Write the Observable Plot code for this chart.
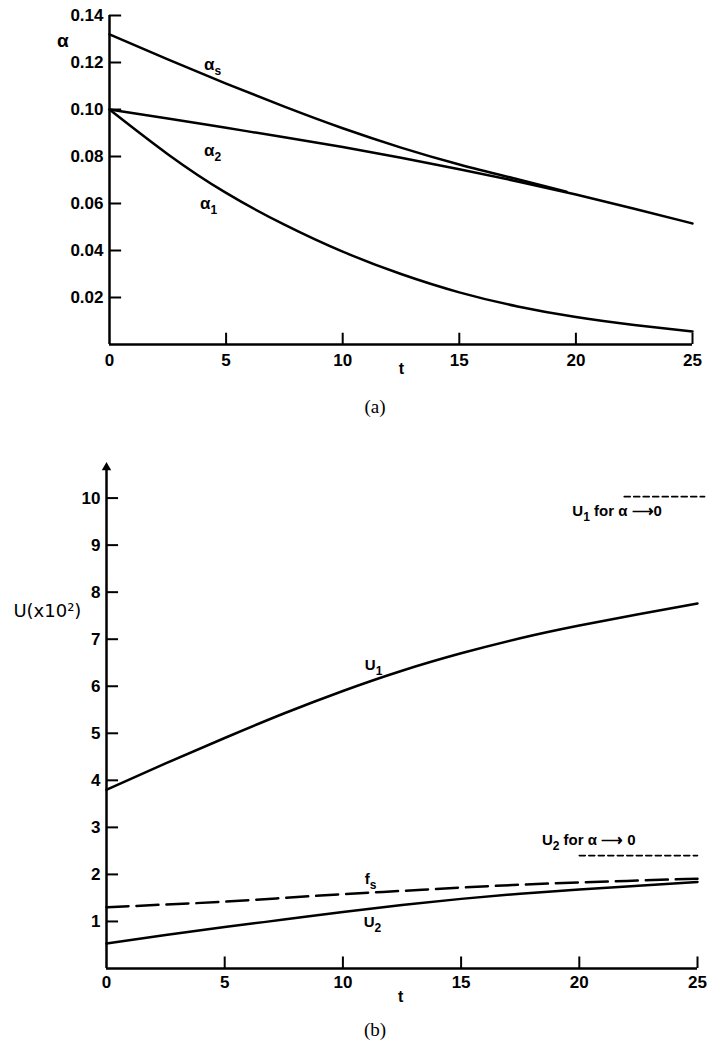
<!DOCTYPE html>
<html><head><meta charset="utf-8">
<script src="https://cdn.jsdelivr.net/npm/d3@7"></script>
<script src="https://cdn.jsdelivr.net/npm/@observablehq/plot@0.6"></script>
<style>
body{margin:0;background:#fff;}
#root{position:relative;width:710px;height:1042px;overflow:hidden;background:#fff;}
.panel{position:absolute;left:0;}
.cap{position:absolute;left:335px;width:80px;text-align:center;font-family:"Liberation Serif","Times New Roman",serif;font-size:19px;color:#000;line-height:22px;}
</style></head>
<body>
<div id="root">
  <div id="pa" class="panel" style="top:0"></div>
  <div class="cap" style="top:396px">(a)</div>
  <div id="pb" class="panel" style="top:430px"></div>
  <div class="cap" style="top:1019px">(b)</div>
</div>
<script>
// ---------- Panel (a) data ----------
const tAlpha   = [0, 2.5, 5, 7.5, 10, 12.5, 15, 17.5, 20, 22.5, 25];
const alpha1   = [0.100, 0.0810, 0.0645, 0.0510, 0.0395, 0.0300, 0.0222, 0.0162, 0.0117, 0.0083, 0.0055];
const alpha2   = [0.100, 0.0962, 0.0922, 0.0882, 0.0840, 0.0795, 0.0746, 0.0694, 0.0638, 0.0578, 0.0515];
const tAlphaS  = [0, 2.5, 5, 7.5, 10, 12.5, 15, 17.5, 19.6];
const alphaS   = [0.132, 0.1213, 0.1110, 0.1012, 0.0920, 0.0838, 0.0766, 0.0703, 0.0650];
const alphaTicks = [0.02, 0.04, 0.06, 0.08, 0.10, 0.12, 0.14];
const tTicks   = [0, 5, 10, 15, 20, 25];
const alphaLabels = [
  {t: 4.42, v: 0.1190, text: "α_s"},
  {t: 4.42, v: 0.0826, text: "α_2"},
  {t: 4.25, v: 0.0600, text: "α_1"}
];
const alphaAxisLabel = [{t: -2.0, v: 0.1294, text: "α"}];
const tLabelA = [{t: 12.52, v: -0.0102, text: "t"}];

// ---------- Panel (b) data ----------
const tU  = [0, 2.5, 5, 7.5, 10, 12.5, 15, 17.5, 20, 22.5, 25];
const U1  = [3.80, 4.36, 4.90, 5.42, 5.90, 6.33, 6.70, 7.02, 7.29, 7.53, 7.76];
const U2  = [0.53, 0.71, 0.88, 1.04, 1.20, 1.35, 1.48, 1.59, 1.68, 1.76, 1.84];
const fS  = [1.30, 1.36, 1.42, 1.50, 1.58, 1.65, 1.72, 1.78, 1.83, 1.87, 1.91];
const U1limit = [{t: 21.9, v: 10.03}, {t: 25.3, v: 10.03}];
const U2limit = [{t: 20.0, v: 2.40}, {t: 25.0, v: 2.40}];
const uTicks  = [1, 2, 3, 4, 5, 6, 7, 8, 9, 10];
const uTop    = 10.65;
const uLabels = [
  {t: 11.3,  v: 6.44, text: "U_1", anchor: "middle"},
  {t: 11.17, v: 1.90, text: "f_s", anchor: "middle"},
  {t: 11.25, v: 0.98, text: "U_2", anchor: "middle"},
  {t: 21.6,  v: 9.72, text: "U_1 for α ⟶0", anchor: "start"},
  {t: 20.4,  v: 2.72, text: "U_2 for α ⟶ 0", anchor: "start"}
];
const uAxisLabel = [{t: -2.5, v: 7.59, text: "U(x10²)"}];
const tLabelB = [{t: 12.44, v: -0.595, text: "t"}];

const rows = (ts, vs) => ts.map((t, i) => ({t, v: vs[i]}));

const baseStyle = {fontFamily: "'Liberation Sans', Arial, sans-serif", fontSize: "17px", fontWeight: "bold", color: "#000", background: "#fff", overflow: "visible"};

function subscripts(svg) {
  svg.querySelectorAll("text").forEach(el => {
    const s = el.textContent;
    if (!s.includes("_")) return;
    const parts = s.split(/_(\S)/);
    el.textContent = "";
    parts.forEach((p, i) => {
      const ts = document.createElementNS("http://www.w3.org/2000/svg", "tspan");
      ts.textContent = p;
      if (i % 2 === 1) { ts.setAttribute("dy", "5"); ts.setAttribute("font-size", "12"); }
      else if (i > 0) { if (!p) return; ts.setAttribute("dy", "-5"); }
      el.appendChild(ts);
    });
  });
}

// ---------- Panel (a) ----------
const plotA = Plot.plot({
  width: 710, height: 380,
  marginLeft: 109, marginRight: 18, marginTop: 15, marginBottom: 36,
  style: baseStyle,
  x: {domain: [0, 25]},
  y: {domain: [0, 0.14]},
  marks: [
    Plot.ruleX([0], {stroke: "#000", strokeWidth: 2.5}),
    Plot.ruleY([0], {stroke: "#000", strokeWidth: 2.5}),
    Plot.ruleY(alphaTicks, {y: d => d, x1: 0, x2: 0.52, stroke: "#000", strokeWidth: 2}),
    Plot.ruleX(tTicks.filter(d => d > 0), {x: d => d, y1: 0, y2: 0.0048, stroke: "#000", strokeWidth: 2}),
    Plot.axisY(alphaTicks, {tickSize: 0, tickPadding: 6, tickFormat: d3.format(".2f"), label: null, fontSize: 17, fontWeight: "bold"}),
    Plot.axisX(tTicks, {tickSize: 0, tickPadding: 9, label: null, fontSize: 17, fontWeight: "bold"}),
    Plot.line(rows(tAlpha, alpha1), {x: "t", y: "v", curve: "natural", stroke: "#000", strokeWidth: 2.5}),
    Plot.line(rows(tAlpha, alpha2), {x: "t", y: "v", curve: "natural", stroke: "#000", strokeWidth: 2.5}),
    Plot.line(rows(tAlphaS, alphaS), {x: "t", y: "v", curve: "natural", stroke: "#000", strokeWidth: 2.5}),
    Plot.text(alphaLabels, {x: "t", y: "v", text: "text", fontSize: 17, fontWeight: "bold", textAnchor: "middle"}),
    Plot.text(alphaAxisLabel, {x: "t", y: "v", text: "text", fontSize: 19, fontWeight: "bold", textAnchor: "middle"}),
    Plot.text(tLabelA, {x: "t", y: "v", text: "text", fontSize: 16, fontWeight: "bold", textAnchor: "middle"})
  ]
});
subscripts(plotA);
document.getElementById("pa").appendChild(plotA);

// ---------- Panel (b) ----------
const plotB = Plot.plot({
  width: 710, height: 580,
  marginLeft: 106, marginRight: 13, marginTop: 37, marginBottom: 42,
  style: baseStyle,
  x: {domain: [0, 25]},
  y: {domain: [0, uTop]},
  marks: [
    Plot.ruleX([0], {stroke: "#000", strokeWidth: 2.5}),
    Plot.ruleY([0], {stroke: "#000", strokeWidth: 2.5}),
    Plot.dot([{t: 0, v: uTop}], {x: "t", y: "v", symbol: "triangle", r: 3.5, fill: "#000", stroke: "none"}),
    Plot.ruleY(uTicks, {y: d => d, x1: 0, x2: 0.51, stroke: "#000", strokeWidth: 2}),
    Plot.ruleX(tTicks.filter(d => d > 0), {x: d => d, y1: 0, y2: 0.245, stroke: "#000", strokeWidth: 2}),
    Plot.axisY(uTicks, {tickSize: 0, tickPadding: 6, label: null, fontSize: 17, fontWeight: "bold"}),
    Plot.axisX(tTicks, {tickSize: 0, tickPadding: 7, label: null, fontSize: 17, fontWeight: "bold"}),
    Plot.line(rows(tU, U1), {x: "t", y: "v", curve: "natural", stroke: "#000", strokeWidth: 2.5}),
    Plot.line(rows(tU, U2), {x: "t", y: "v", curve: "natural", stroke: "#000", strokeWidth: 2.5}),
    Plot.line(rows(tU, fS), {x: "t", y: "v", curve: "natural", stroke: "#000", strokeWidth: 2.5, strokeDasharray: "22,8"}),
    Plot.line(U1limit, {x: "t", y: "v", stroke: "#000", strokeWidth: 1.6, strokeDasharray: "6,3.5"}),
    Plot.line(U2limit, {x: "t", y: "v", stroke: "#000", strokeWidth: 1.6, strokeDasharray: "6,3.5"}),
    Plot.text(uLabels, {x: "t", y: "v", text: "text", fontSize: 15, fontWeight: "bold", textAnchor: d => d.anchor}),
    Plot.text(uAxisLabel, {x: "t", y: "v", text: "text", fontSize: 18, fontWeight: "normal", fontFamily: "'DejaVu Sans', sans-serif", textAnchor: "middle"}),
    Plot.text(tLabelB, {x: "t", y: "v", text: "text", fontSize: 16, fontWeight: "bold", textAnchor: "middle"})
  ]
});
subscripts(plotB);
document.getElementById("pb").appendChild(plotB);
</script>
</body></html>
